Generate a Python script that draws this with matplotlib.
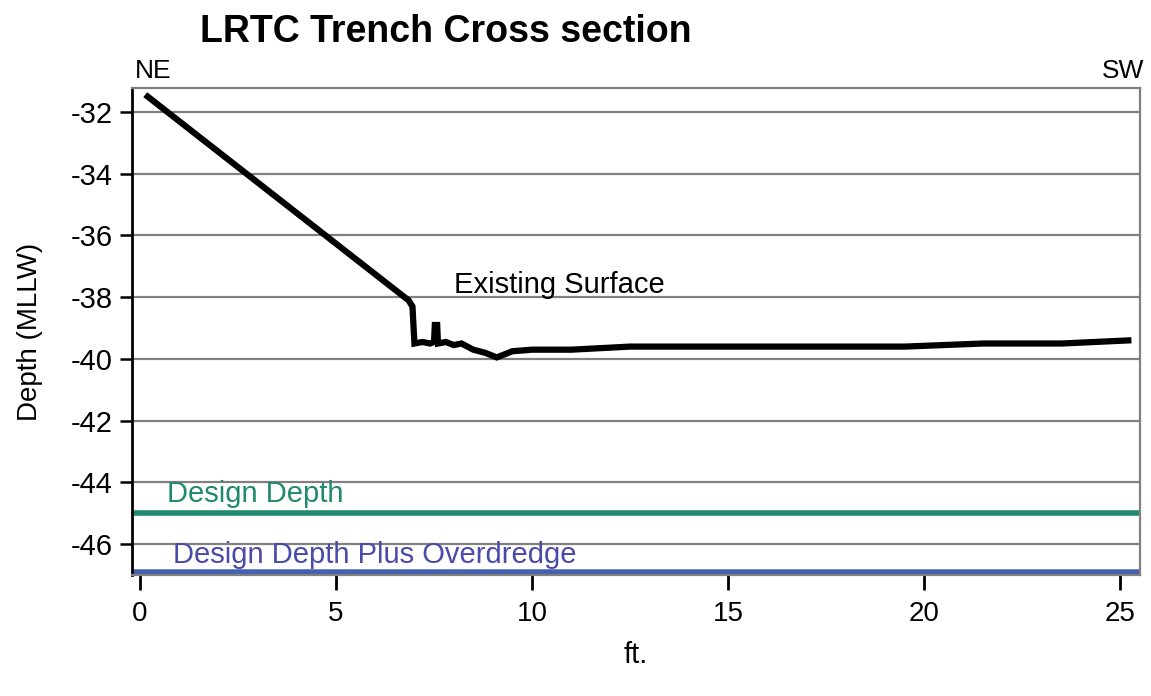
import matplotlib
matplotlib.use('Agg')
import matplotlib.pyplot as plt

plt.rcParams['font.family'] = ['Liberation Sans', 'DejaVu Sans']
plt.rcParams['axes.unicode_minus'] = False

# Existing surface profile (ft., depth MLLW)
surf_x = [0.2, 6.85, 6.95, 7.0, 7.2, 7.4, 7.5, 7.52, 7.58, 7.6, 7.8, 8.0, 8.2, 8.5, 8.8, 9.1,
          9.5, 10.0, 11.0, 12.5, 15.0, 19.5, 21.5, 23.5, 25.2]
surf_y = [-31.5, -38.1, -38.3, -39.5, -39.45, -39.5, -39.45, -38.9, -38.9, -39.5, -39.45, -39.55,
          -39.5, -39.7, -39.8, -39.95, -39.75, -39.7, -39.7, -39.6, -39.6, -39.6, -39.5, -39.5, -39.4]

design_depth = -45
overdredge_depth = -47
yticks = [-32, -34, -36, -38, -40, -42, -44, -46]
xticks = [0, 5, 10, 15, 20, 25]

fig = plt.figure(figsize=(11.51, 6.96), dpi=100)
ax = fig.add_axes([0.1147, 0.1739, 0.8758, 0.6997])

for yv in yticks:
    ax.axhline(yv, color='#808080', lw=1.6, zorder=1)

ax.plot(surf_x, surf_y, color='black', lw=4.5, zorder=3, solid_joinstyle='miter')
ax.axhline(design_depth, color='#1f8a6e', lw=4, zorder=2)
ax.axhline(overdredge_depth, color='#4361b0', lw=9, zorder=2)

ax.set_xlim(-0.2, 25.5)
ax.set_ylim(-47.0, -31.22)
ax.set_xticks(xticks)
ax.set_yticks(yticks)
ax.tick_params(axis='both', labelsize=20, direction='out')
ax.tick_params(axis='y', labelsize=21)
ax.tick_params(axis='x', length=11, width=2, pad=8)
ax.tick_params(axis='y', length=9, width=1.8, pad=5)

for s in ['top', 'right', 'bottom']:
    ax.spines[s].set_color('#808080')
    ax.spines[s].set_linewidth(1.6)
ax.spines['left'].set_linewidth(2)

ax.set_ylabel('Depth (MLLW)', fontsize=20, labelpad=20)
ax.set_xlabel('ft.', fontsize=21, labelpad=10)

ax.text(8.0, -37.85, 'Existing Surface', fontsize=21, zorder=4)
ax.text(0.7, -44.65, 'Design Depth', fontsize=21, color='#1f8a6e')
ax.text(0.85, -46.6, 'Design Depth Plus Overdredge', fontsize=21, color='#4a4aa8')

fig.text(0.174, 0.94, 'LRTC Trench Cross section', fontsize=27, fontweight='bold')
fig.text(0.117, 0.888, 'NE', fontsize=19)
fig.text(0.994, 0.888, 'SW', fontsize=19, ha='right')

fig.savefig('out.png', dpi=100)
